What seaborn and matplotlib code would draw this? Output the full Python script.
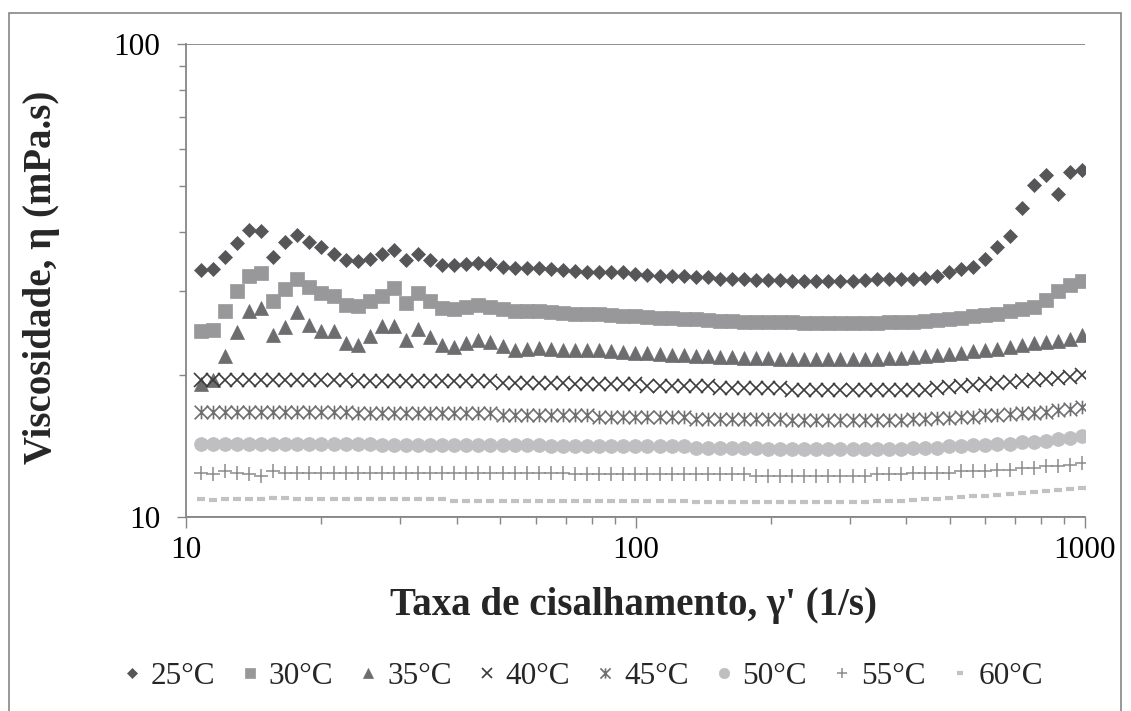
import numpy as np
import pandas as pd
import matplotlib
matplotlib.use("Agg")
import matplotlib.pyplot as plt
import seaborn as sns
from matplotlib.path import Path
from matplotlib.patches import Rectangle
from matplotlib.ticker import LogLocator, NullFormatter

# ---------------- data ----------------
shear_rate = [10.78, 11.47, 12.20, 12.98, 13.81, 14.69, 15.62, 16.62, 17.69, 18.81,
              20.01, 21.29, 22.65, 24.09, 25.63, 27.27, 29.00, 30.85, 32.82, 34.91,
              37.14, 39.51, 42.04, 44.72, 47.57, 50.60, 53.83, 57.26, 60.91, 64.80,
              68.93, 73.33, 78.00, 82.98, 88.27, 93.91, 99.91, 106.3, 113.1, 120.3,
              127.9, 136.1, 144.8, 154.0, 163.8, 174.3, 185.4, 197.2, 209.8, 223.2,
              237.5, 252.6, 268.7, 285.8, 304.1, 323.5, 344.1, 366.1, 389.4, 414.3,
              440.7, 468.8, 498.7, 530.5, 564.4, 600.4, 638.7, 679.4, 722.8, 768.9,
              818.0, 870.2, 925.7, 984.7]

visc_25 = [33.3, 33.4, 35.4, 37.9, 40.4, 40.2, 35.5, 38.1, 39.5, 38.2,
           37.3, 36.0, 34.9, 34.7, 35.1, 35.9, 36.6, 35.0, 36.0, 35.0,
           34.1, 34.1, 34.3, 34.4, 34.2, 33.8, 33.6, 33.6, 33.6, 33.4,
           33.3, 33.2, 33.0, 33.0, 32.9, 32.9, 32.7, 32.5, 32.4, 32.3,
           32.3, 32.2, 32.1, 31.9, 31.9, 31.8, 31.7, 31.7, 31.7, 31.6,
           31.6, 31.6, 31.6, 31.6, 31.6, 31.7, 31.8, 31.8, 31.9, 31.9,
           32.0, 32.3, 33.0, 33.4, 33.7, 35.1, 37.2, 39.3, 44.9, 50.4,
           52.9, 48.1, 53.7, 54.2]

visc_30 = [24.7, 24.8, 27.2, 30.1, 32.4, 32.8, 28.6, 30.3, 31.9, 30.6,
           29.8, 29.3, 28.1, 27.9, 28.6, 29.3, 30.5, 28.4, 29.8, 28.6,
           27.7, 27.5, 27.8, 28.1, 27.8, 27.5, 27.2, 27.2, 27.3, 27.1,
           27.0, 26.9, 26.8, 26.8, 26.7, 26.6, 26.6, 26.5, 26.4, 26.3,
           26.2, 26.2, 26.1, 26.0, 26.0, 25.9, 25.9, 25.8, 25.8, 25.8,
           25.7, 25.7, 25.7, 25.7, 25.7, 25.7, 25.7, 25.8, 25.8, 25.9,
           26.0, 26.1, 26.2, 26.3, 26.6, 26.7, 26.9, 27.2, 27.5, 27.8,
           28.8, 30.1, 31.0, 31.5]

visc_35 = [19.1, 19.5, 21.9, 24.6, 27.3, 27.7, 24.2, 25.2, 27.1, 25.5,
           24.7, 24.7, 23.3, 23.1, 24.1, 25.3, 25.4, 23.7, 25.0, 24.0,
           23.1, 22.9, 23.3, 23.7, 23.4, 23.0, 22.6, 22.7, 22.8, 22.7,
           22.6, 22.6, 22.5, 22.5, 22.4, 22.3, 22.2, 22.2, 22.1, 22.0,
           22.0, 21.9, 21.9, 21.8, 21.8, 21.7, 21.7, 21.7, 21.6, 21.6,
           21.6, 21.6, 21.6, 21.6, 21.6, 21.6, 21.6, 21.7, 21.7, 21.8,
           21.9, 22.0, 22.1, 22.2, 22.4, 22.5, 22.7, 22.9, 23.1, 23.3,
           23.4, 23.5, 23.8, 24.2]

visc_40 = [19.5, 19.5, 19.5, 19.5, 19.5, 19.5, 19.5, 19.5, 19.5, 19.5,
           19.5, 19.5, 19.5, 19.4, 19.4, 19.4, 19.4, 19.4, 19.4, 19.4,
           19.4, 19.4, 19.4, 19.4, 19.4, 19.2, 19.2, 19.2, 19.2, 19.2,
           19.2, 19.1, 19.1, 19.1, 19.1, 19.1, 19.1, 18.9, 18.9, 18.9,
           18.9, 18.9, 18.9, 18.7, 18.7, 18.7, 18.7, 18.7, 18.7, 18.6,
           18.6, 18.6, 18.6, 18.6, 18.6, 18.6, 18.6, 18.6, 18.6, 18.6,
           18.6, 18.7, 18.8, 18.9, 19.0, 19.1, 19.2, 19.3, 19.4, 19.5,
           19.6, 19.7, 19.8, 20.0]

visc_45 = [16.7, 16.7, 16.7, 16.7, 16.7, 16.7, 16.7, 16.7, 16.7, 16.7,
           16.7, 16.7, 16.7, 16.6, 16.6, 16.6, 16.6, 16.6, 16.6, 16.6,
           16.6, 16.6, 16.6, 16.6, 16.6, 16.4, 16.4, 16.4, 16.4, 16.4,
           16.4, 16.4, 16.4, 16.3, 16.3, 16.3, 16.3, 16.3, 16.3, 16.3,
           16.3, 16.1, 16.1, 16.1, 16.1, 16.1, 16.1, 16.1, 16.1, 16.0,
           16.0, 16.0, 16.0, 16.0, 16.0, 16.0, 16.0, 16.0, 16.0, 16.1,
           16.1, 16.2, 16.2, 16.3, 16.3, 16.4, 16.4, 16.5, 16.6, 16.6,
           16.7, 16.8, 16.9, 17.1]

visc_50 = [14.3, 14.3, 14.3, 14.3, 14.3, 14.3, 14.3, 14.3, 14.3, 14.3,
           14.3, 14.3, 14.3, 14.3, 14.3, 14.2, 14.2, 14.2, 14.2, 14.2,
           14.2, 14.2, 14.2, 14.2, 14.2, 14.2, 14.2, 14.2, 14.2, 14.1,
           14.1, 14.1, 14.1, 14.1, 14.1, 14.1, 14.1, 14.1, 14.1, 14.1,
           14.1, 14.0, 14.0, 14.0, 14.0, 14.0, 14.0, 13.9, 13.9, 13.9,
           13.9, 13.9, 13.9, 13.9, 13.9, 13.9, 13.9, 13.9, 13.9, 14.0,
           14.0, 14.0, 14.1, 14.1, 14.2, 14.2, 14.3, 14.3, 14.4, 14.4,
           14.5, 14.6, 14.7, 14.8]

visc_55 = [12.4, 12.3, 12.5, 12.4, 12.3, 12.2, 12.5, 12.4, 12.4, 12.4,
           12.4, 12.4, 12.4, 12.4, 12.4, 12.4, 12.4, 12.4, 12.4, 12.4,
           12.4, 12.4, 12.4, 12.4, 12.4, 12.4, 12.4, 12.4, 12.4, 12.4,
           12.4, 12.3, 12.3, 12.3, 12.3, 12.3, 12.3, 12.3, 12.3, 12.3,
           12.3, 12.3, 12.3, 12.3, 12.3, 12.3, 12.2, 12.2, 12.2, 12.2,
           12.2, 12.2, 12.2, 12.2, 12.2, 12.2, 12.3, 12.3, 12.3, 12.4,
           12.4, 12.4, 12.4, 12.5, 12.5, 12.5, 12.6, 12.6, 12.7, 12.7,
           12.8, 12.8, 12.9, 13.0]

visc_60 = [10.9, 10.85, 10.9, 10.9, 10.9, 10.9, 10.95, 10.95, 10.9, 10.9,
           10.9, 10.9, 10.9, 10.9, 10.9, 10.9, 10.9, 10.9, 10.9, 10.9,
           10.9, 10.8, 10.8, 10.8, 10.8, 10.8, 10.8, 10.8, 10.8, 10.8,
           10.8, 10.8, 10.8, 10.8, 10.8, 10.8, 10.8, 10.8, 10.8, 10.8,
           10.8, 10.75, 10.75, 10.75, 10.75, 10.75, 10.75, 10.75, 10.75, 10.75,
           10.75, 10.75, 10.75, 10.75, 10.75, 10.75, 10.8, 10.8, 10.8, 10.85,
           10.9, 10.9, 10.95, 11.0, 11.05, 11.1, 11.15, 11.2, 11.25, 11.3,
           11.35, 11.4, 11.45, 11.5]

series_labels = ["25°C", "30°C", "35°C", "40°C", "45°C", "50°C", "55°C", "60°C"]
series_values = [visc_25, visc_30, visc_35, visc_40, visc_45, visc_50, visc_55, visc_60]

x_ticks = [10, 100, 1000]
x_tick_labels = ["10", "100", "1000"]
y_ticks = [10, 100]
y_tick_labels = ["10", "100"]

# ---------------- style ----------------
sns.set_theme(style="white")
plt.rcParams["font.family"] = ["Liberation Serif", "DejaVu Serif"]

GRAY = "#868686"

asterisk = Path([(-0.5, -0.5), (0.5, 0.5), (-0.5, 0.5), (0.5, -0.5), (0.0, -0.5), (0.0, 0.5)],
                [Path.MOVETO, Path.LINETO, Path.MOVETO, Path.LINETO, Path.MOVETO, Path.LINETO])

styles = [
    dict(marker="D", markersize=7.4, color="#565658", filled=True, mew=0.5),
    dict(marker="s", markersize=10.0, color="#98989b", filled=True, mew=0.5),
    dict(marker="^", markersize=10.2, color="#6d6d70", filled=True, mew=0.5),
    dict(marker="x", markersize=9.8, color="#3c3c3d", filled=False, mew=1.2),
    dict(marker=asterisk, markersize=9.8, color="#707072", filled=False, mew=1.2),
    dict(marker="o", markersize=10.0, color="#bfbfc1", filled=True, mew=0.5),
    dict(marker="+", markersize=10.0, color="#8b8b8d", filled=False, mew=1.1),
    dict(marker="_", markersize=6.2, color="#c2c2c4", filled=False, mew=3.0),
]

fig = plt.figure(figsize=(11.31, 7.11), dpi=100)
ax = fig.add_axes([186 / 1131, 1 - 517 / 711, 899 / 1131, 473 / 711])
ax.set_xscale("log")
ax.set_yscale("log")

for i, (lab, vals, st) in enumerate(zip(series_labels, series_values, styles)):
    df = pd.DataFrame({"x": shear_rate, "y": vals})
    sns.lineplot(data=df, x="x", y="y", ax=ax, label=lab, errorbar=None,
                 linestyle="", marker=st["marker"], markersize=st["markersize"],
                 color=st["color"],
                 markerfacecolor=st["color"] if st["filled"] else "none",
                 markeredgecolor=st["color"], markeredgewidth=st["mew"],
                 zorder=3 + i)

ax.set_xlim(10, 1000)
ax.set_ylim(10, 100)

ax.set_xticks(x_ticks, labels=x_tick_labels)
ax.set_yticks(y_ticks, labels=y_tick_labels)
ax.xaxis.set_minor_locator(LogLocator(base=10, subs=np.arange(2, 10)))
ax.yaxis.set_minor_locator(LogLocator(base=10, subs=np.arange(2, 10)))
ax.xaxis.set_minor_formatter(NullFormatter())
ax.yaxis.set_minor_formatter(NullFormatter())

ax.tick_params(which="both", bottom=True, left=True, top=False, right=False,
               direction="out", color=GRAY, width=1.0)
ax.tick_params(axis="x", which="major", length=8, pad=6, labelsize=22.5, labelcolor="black")
ax.tick_params(axis="y", which="major", length=6.5, pad=12, labelsize=22.5, labelcolor="black")
ax.tick_params(axis="x", which="minor", length=5)
ax.tick_params(axis="y", which="minor", length=5)

for side in ["top", "right"]:
    ax.spines[side].set_visible(False)
for side in ["left", "bottom"]:
    ax.spines[side].set_color(GRAY)
    ax.spines[side].set_linewidth(1.3)

ax.yaxis.grid(True, which="major", color=GRAY, linewidth=1.3)
ax.xaxis.grid(False)
ax.set_axisbelow(True)

ax.set_xlabel("Taxa de cisalhamento, γ' (1/s)", fontsize=28, fontweight="bold")
ax.set_ylabel("Viscosidade, η (mPa.s)", fontsize=28, fontweight="bold")
ax.xaxis.label.set_va("center")
ax.yaxis.label.set_va("center")
ax.xaxis.set_label_coords((633 - 186) / 899, (517 - 605) / 473)
ax.yaxis.set_label_coords((42 - 186) / 899, (517 - 277) / 473)

handles, labels = ax.get_legend_handles_labels()
if ax.get_legend() is not None:
    ax.get_legend().remove()
fig.legend(handles, labels, loc="center", bbox_to_anchor=(583 / 1131, 1 - 676 / 711),
           ncol=8, frameon=False, prop={"family": "Liberation Serif", "size": 22.5},
           handlelength=0.6, handletextpad=0.3, columnspacing=0.82,
           markerscale=0.75, numpoints=1)

fig.patches.append(Rectangle((9 / 1131, -0.05), (1121 - 9) / 1131, 1.05 - 13 / 711,
                             transform=fig.transFigure, fill=False, edgecolor=GRAY,
                             linewidth=1.2, zorder=0))

fig.savefig("out.png", dpi=100)
